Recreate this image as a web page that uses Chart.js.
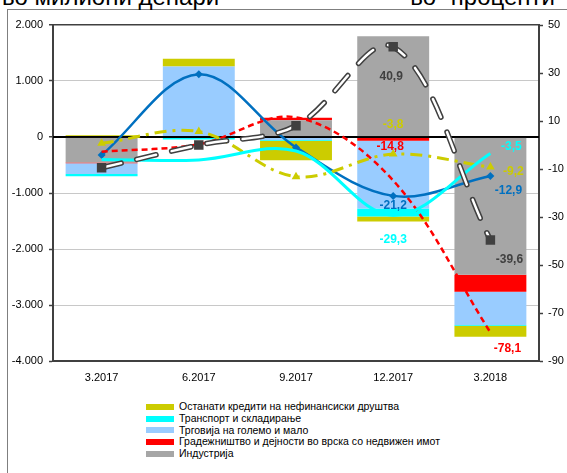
<!DOCTYPE html>
<html><head><meta charset="utf-8">
<script src="https://cdn.jsdelivr.net/npm/chart.js@4"></script>
<style>
html,body{margin:0;padding:0;background:#fff;}
#wrap{position:relative;width:567px;height:473px;overflow:hidden;font-family:"Liberation Sans",Arial,sans-serif;}
#frame{position:absolute;left:7px;top:9px;width:620px;height:520px;border-left:1px solid #7f7f7f;border-top:1px solid #7f7f7f;}
#chartBox{position:absolute;left:0;top:0;width:567px;height:395px;}
.hdr{position:absolute;top:-15px;font-size:24px;line-height:24px;color:#000;white-space:nowrap;}
#legend{position:absolute;left:146px;top:401px;font-size:10.5px;color:#000;}
.li{height:11.8px;line-height:11.8px;display:flex;align-items:center;white-space:nowrap;}
.sw{width:28px;height:6px;margin-right:5px;flex:none;}
</style></head><body>
<div id="wrap">
<div id="frame"></div>
<div class="hdr" style="left:2px">во милиони денари</div>
<div class="hdr" style="right:12px;word-spacing:8px">во проценти</div>
<div id="chartBox"><canvas id="c"></canvas></div>
<div id="legend"></div>
</div>
<script>
// ---- data ----
const categories = ['3.2017', '6.2017', '9.2017', '12.2017', '3.2018'];
// changes in loans, millions of denars (left axis)
const industryAmt     = [-455, 0, 300, 1800, -2460];
const constructionAmt = [-15, 0, 45, -65, -305];
const tradeAmt        = [-190, 1260, -55, -1210, -590];
const transportAmt    = [-43, -45, -10, -143, -15];
const otherAmt        = [30, 137, -350, -89, -196];
// growth rates, percent (right axis)
const industryPct     = [-9.5, 0.0, 8.0, 40.9, -39.6];
const constructionPct = [-2.8, 0.3, 11.5, -14.8, -78.1];
const tradePct        = [-4.2, 29.5, -1.0, -21.2, -12.9];
const transportPct    = [-6.0, -6.2, -2.5, -29.3, -3.5];
const otherPct        = [0.7, 5.6, -13.2, -3.8, -9.2];
const seriesNames = {
  other: 'Останати кредити на нефинансиски друштва',
  transport: 'Транспорт и складирање',
  trade: 'Трговија на големо и мало',
  construction: 'Градежништво и дејности во врска со недвижен имот',
  industry: 'Индустрија'
};

// ---- styles ----
const COL = {industry:'#A6A6A6', construction:'#FF0000', trade:'#99CCFF', transport:'#00FFFF', other:'#CCCC00',
             industryLine:'#404040', tradeLine:'#0070C0'};
const FONT = '"Liberation Sans", Arial, sans-serif';

function barDs(label, data, color){
  return {type:'bar', label, data, backgroundColor:color, borderWidth:0, yAxisID:'y', order:10,
          categoryPercentage:1.0, barPercentage:0.74, stack:'s'};
}
function lineDs(label, data, o){
  return Object.assign({type:'line', label, data, yAxisID:'y1', fill:false, tension:0.35,
          pointRadius:0, pointHoverRadius:0, order:4, isLine:true}, o);
}

const datasets = [
  barDs(seriesNames.industry, industryAmt, COL.industry),
  barDs(seriesNames.construction, constructionAmt, COL.construction),
  barDs(seriesNames.trade, tradeAmt, COL.trade),
  barDs(seriesNames.transport, transportAmt, COL.transport),
  barDs(seriesNames.other, otherAmt, COL.other),
  lineDs('tr', transportPct, {borderColor:COL.transport, borderWidth:3,
     lbl:{color:COL.transport, off:{3:[0,24],4:[21,-7]}}}),
  lineDs('ot', otherPct, {borderColor:COL.other, borderWidth:3, borderDash:[12,6,3,6],
     pointStyle:'triangle', pointRadius:5, pointBackgroundColor:COL.other, pointBorderColor:COL.other, pointBorderWidth:0,
     lbl:{color:COL.other, off:{3:[0,-29],4:[23,5]}}}),
  lineDs('co', constructionPct, {borderColor:COL.construction, borderWidth:2.5, borderDash:[6,4],
     lbl:{color:COL.construction, off:{3:[-3,-34],4:[17,16]}}}),
  lineDs('trd', tradePct, {borderColor:COL.tradeLine, borderWidth:2.5,
     pointStyle:'rectRot', pointRadius:4, pointBackgroundColor:COL.tradeLine, pointBorderColor:COL.tradeLine, pointBorderWidth:0,
     lbl:{color:COL.tradeLine, off:{3:[0,10],4:[18,15]}}}),
  // industry: double (outlined) dashed line
  lineDs('in_outer', industryPct, {borderColor:COL.industryLine, borderWidth:5.5, borderDash:[20,16], borderCapStyle:'round', order:3}),
  lineDs('in_inner', industryPct, {borderColor:'#FFFFFF', borderWidth:2.5, borderDash:[20,16], borderCapStyle:'round', order:2,
     pointStyle:'rect', pointRadius:6.7, pointBackgroundColor:COL.industryLine, pointBorderColor:COL.industryLine, pointBorderWidth:0,
     lbl:{color:COL.industryLine, off:{3:[-2,30],4:[19,20]}}})
];

const zeroLine = {
  id:'zeroLine',
  afterDatasetDraw(chart, args){
    if (args.meta.type !== 'bar') return;
    const y = chart.scales.y.getPixelForValue(0), a = chart.chartArea, ctx = chart.ctx;
    ctx.save(); ctx.strokeStyle = '#000'; ctx.lineWidth = 1.5;
    ctx.beginPath(); ctx.moveTo(a.left, y); ctx.lineTo(a.right, y); ctx.stroke(); ctx.restore();
  }
};
const pctLabels = {
  id:'pctLabels',
  afterDatasetsDraw(chart){
    const ctx = chart.ctx;
    ctx.save();
    ctx.font = 'bold 12px ' + FONT;
    ctx.textAlign = 'center'; ctx.textBaseline = 'middle';
    chart.data.datasets.forEach((ds, i) => {
      if (!ds.lbl) return;
      const meta = chart.getDatasetMeta(i);
      Object.keys(ds.lbl.off).forEach(k => {
        const idx = +k, p = meta.data[idx], o = ds.lbl.off[k];
        ctx.fillStyle = ds.lbl.color;
        ctx.fillText(ds.data[idx].toFixed(1).replace('.', ','), p.x + o[0], p.y + o[1]);
      });
    });
    ctx.restore();
  }
};

const chart = new Chart(document.getElementById('c'), {
  type:'bar',
  data:{labels:categories, datasets},
  plugins:[zeroLine, pctLabels],
  options:{
    responsive:true, maintainAspectRatio:false, animation:false,
    layout:{padding:{top:25, left:0, right:0, bottom:0}},
    plugins:{legend:{display:false}, tooltip:{enabled:false}},
    scales:{
      x:{stacked:true, offset:true,
         grid:{display:false, drawTicks:false},
         border:{display:true, color:'#404040', width:2},
         ticks:{color:'#000', font:{family:FONT, size:11}, padding:10, maxRotation:0},
         afterFit(s){ s.height = 34; }},
      y:{position:'left', stacked:true, min:-4000, max:2000,
         ticks:{stepSize:1000, color:'#000', font:{family:FONT, size:11}, padding:6,
                callback:v => v.toLocaleString('de-DE')},
         grid:{drawTicks:true, tickLength:4, tickColor:'#404040', tickWidth:1.5,
               color:c => c.tick.value === 0 ? '#000' : (c.tick.value === 2000 ? '#404040' : '#C8C8C8'),
               lineWidth:c => (c.tick.value === 0 || c.tick.value === 2000) ? 1.5 : 1},
         border:{display:true, color:'#404040', width:2},
         afterFit(s){ s.width = 53; }},
      y1:{position:'right', min:-90, max:50,
         ticks:{stepSize:20, color:'#000', font:{family:FONT, size:11}, padding:5},
         grid:{drawOnChartArea:false, drawTicks:true, tickLength:4, tickColor:'#404040', tickWidth:1.5},
         border:{display:true, color:'#404040', width:2},
         afterFit(s){ s.width = 28; }}
    }
  }
});

// HTML legend (bar series, reverse stacking order)
const lg = document.getElementById('legend');
[4,3,2,1,0].forEach(i => {
  const ds = chart.data.datasets[i];
  const row = document.createElement('div'); row.className = 'li';
  const sw = document.createElement('span'); sw.className = 'sw'; sw.style.background = ds.backgroundColor;
  const tx = document.createElement('span'); tx.textContent = ds.label;
  row.appendChild(sw); row.appendChild(tx); lg.appendChild(row);
});
</script>
</body></html>
